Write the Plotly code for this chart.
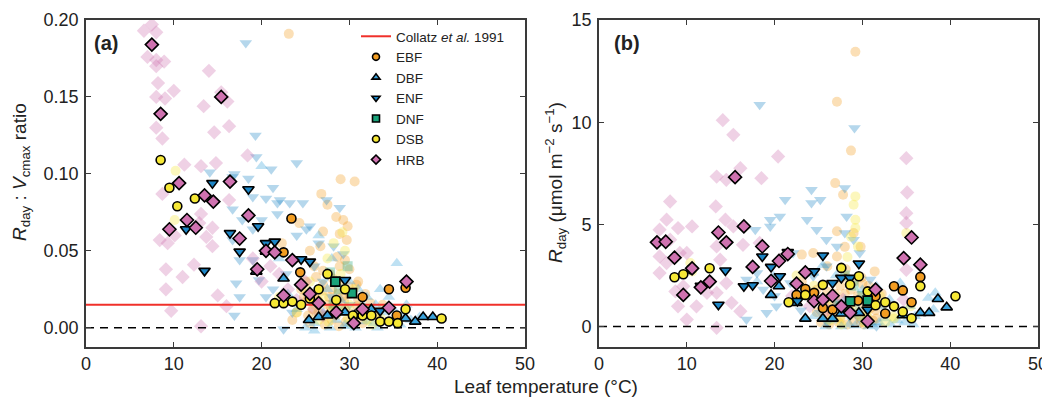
import plotly.graph_objects as go

# ---------------- data ----------------
CATS = ["EBF", "DBF", "ENF", "DNF", "DSB", "HRB"]
COLLATZ_RATIO = 0.015
ZERO = 0.0
X_LIMITS = [0, 50]
A_Y_LIMITS = [-0.0125, 0.2]
B_Y_LIMITS = [-1.0, 15.0]
X_TICKS = [0, 10, 20, 30, 40, 50]
A_Y_TICKS = [0.00, 0.05, 0.10, 0.15, 0.20]
B_Y_TICKS = [0, 5, 10, 15]

# Panel (a) – highlighted points
A_EBF_x = [23.4, 22.5, 24.4, 31.5, 34.5, 36.4, 35.4]
A_EBF_y = [0.071, 0.049, 0.036, 0.020, 0.025, 0.026, 0.008]
A_DBF_x = [19.4, 20.5, 22.5, 25.4, 26.5, 27.5, 29.5, 30.6, 32.5, 36.4, 37.5, 38.4, 39.5]
A_DBF_y = [0.0365, 0.0495, 0.032, 0.005, 0.007, 0.008, 0.010, 0.008, 0.012, 0.006, 0.004, 0.007, 0.007]
A_ENF_x = [14.4, 18.5, 11.4, 16.4, 19.6, 17.5, 20.5, 21.5, 13.5, 24.5, 25.5, 29.5, 33.5]
A_ENF_y = [0.094, 0.090, 0.064, 0.0615, 0.066, 0.0495, 0.055, 0.056, 0.037, 0.0445, 0.043, 0.031, 0.011]
A_DNF_x = [28.4, 30.3]
A_DNF_y = [0.030, 0.0225]
A_DSB_x = [8.5, 9.5, 10.4, 12.4, 21.5, 22.5, 23.5, 24.5, 25.5, 26.5, 27.5, 28.5, 29.5, 30.4, 31.5, 32.5, 33.5, 34.5, 35.5, 36.4, 40.5]
A_DSB_y = [0.109, 0.091, 0.079, 0.084, 0.016, 0.016, 0.017, 0.015, 0.019, 0.025, 0.035, 0.018, 0.025, 0.008, 0.008, 0.008, 0.004, 0.004, 0.003, 0.012, 0.006]
A_HRB_x = [7.5, 8.5, 15.4, 9.5, 10.6, 16.4, 13.5, 14.5, 11.5, 12.5, 18.5, 17.5, 20.5, 21.5, 19.5, 23.5, 24.5, 22.5, 25.5, 26.5, 28.5, 30.5, 31.5, 34.5, 36.5]
A_HRB_y = [0.184, 0.139, 0.150, 0.064, 0.094, 0.095, 0.086, 0.082, 0.070, 0.065, 0.073, 0.058, 0.050, 0.049, 0.038, 0.044, 0.028, 0.021, 0.022, 0.016, 0.010, 0.003, 0.012, 0.013, 0.030]

# Panel (a) – faint background points
A_BG_EBF_x = [23.1, 29.0, 30.6, 26.8, 27.5, 29.3, 28.5, 29.8, 28.9, 27.0, 29.7, 26.7, 25.5, 28.6, 29.5, 28.9, 30.0, 27.8, 31.0, 25.0,
              24.5, 26.0, 27.0, 28.0, 29.0, 30.0, 31.0, 32.0, 26.5, 27.5, 28.5, 29.5, 30.5, 25.5, 24.0, 23.5, 33.0, 31.5, 26.0, 28.0,
              27.2, 29.2, 24.3, 22.3, 26.2, 27.7, 28.3, 29.6, 30.8, 25.2, 27.0, 28.8, 31.8, 33.8,
              25.8, 26.4, 27.3, 27.9, 28.7, 29.4, 30.2, 30.9, 31.6, 32.4, 26.9, 28.1, 29.9, 24.8, 25.3]
A_BG_EBF_y = [0.191, 0.0965, 0.095, 0.087, 0.080, 0.070, 0.072, 0.066, 0.061, 0.0625, 0.057, 0.053, 0.050, 0.046, 0.044, 0.040, 0.038, 0.035, 0.030, 0.030,
              0.025, 0.022, 0.028, 0.025, 0.030, 0.022, 0.018, 0.012, 0.010, 0.015, 0.008, 0.012, 0.005, 0.003, 0.010, 0.005, 0.008, 0.003, 0.040, 0.005,
              0.002, 0.020, 0.068, 0.055, 0.033, 0.020, 0.015, 0.004, 0.028, 0.018, 0.037, 0.001, 0.022, 0.015,
              0.012, 0.018, 0.008, 0.013, 0.022, 0.017, 0.009, 0.014, 0.010, 0.016, 0.024, 0.032, 0.027, 0.020, 0.008]
A_BG_DBF_x = [20.0, 26.5, 28.0, 30.0, 31.0, 32.0, 33.0, 34.0, 35.0, 36.0, 37.0, 38.0, 27.0, 28.5, 29.5, 25.0, 26.0, 24.0, 23.0, 22.0,
              35.4, 33.5, 30.5, 31.5, 29.0, 27.5, 36.5, 34.5, 26.0, 27.8, 29.8, 32.8, 30.7, 31.9, 33.2, 34.8, 35.8, 28.9]
A_BG_DBF_y = [0.105, 0.060, 0.045, 0.030, 0.025, 0.020, 0.015, 0.010, 0.012, 0.008, 0.005, 0.007, 0.010, 0.005, 0.002, 0.000, 0.003, 0.012, 0.022, 0.045,
              0.042, 0.025, 0.005, 0.015, 0.018, 0.025, 0.015, 0.020, -0.002, 0.000, 0.001, 0.003, 0.000, 0.004, 0.000, 0.003, 0.002, 0.014]
A_BG_ENF_x = [18.2, 19.3, 19.4, 21.1, 14.1, 16.9, 18.5, 16.7, 19.0, 20.5, 21.8, 16.7, 17.8, 16.7, 17.5, 19.0, 17.1, 17.5, 19.7, 20.5,
              21.3, 16.9, 21.8, 19.0, 21.3, 22.1, 23.2, 24.0, 24.7, 25.5, 25.1, 27.4, 28.9, 28.2, 29.3, 22.5, 23.5, 26.0, 27.0, 28.0,
              30.0, 31.0, 24.0, 26.5, 20.0, 22.8]
A_BG_ENF_y = [0.185, 0.125, 0.111, 0.103, 0.101, 0.100, 0.097, 0.098, 0.085, 0.084, 0.081, 0.077, 0.070, 0.057, 0.044, 0.044, 0.029, 0.020, 0.031, 0.020,
              0.025, 0.008, 0.074, 0.064, 0.091, 0.083, 0.081, 0.107, 0.081, 0.066, 0.064, 0.083, 0.078, 0.053, 0.048, -0.001, 0.010, 0.040, 0.030, 0.020,
              0.015, 0.010, 0.060, 0.055, 0.070, 0.035]
A_BG_DNF_x = [27.8, 28.8, 29.8, 28.2]
A_BG_DNF_y = [0.036, 0.025, 0.040, 0.015]
A_BG_DSB_x = [10.1, 10.2, 22.0, 24.0, 25.0, 26.0, 27.0, 28.0, 29.0, 30.0, 31.0, 32.0, 33.0, 27.5, 28.5, 29.5, 26.5, 25.5, 30.5, 29.2, 28.2,
              26.3, 27.6, 28.9, 30.3, 31.4, 32.6, 33.6, 29.8]
A_BG_DSB_y = [0.070, 0.102, 0.020, 0.010, 0.025, 0.015, 0.020, 0.010, 0.035, 0.015, 0.008, 0.005, 0.010, 0.045, 0.030, 0.050, 0.005, 0.030, 0.025, 0.062, 0.055,
              0.009, 0.004, 0.012, 0.003, 0.013, 0.002, 0.006, 0.006]
A_BG_HRB_x = [6.6, 7.5, 8.0, 7.0, 8.0, 8.9, 8.0, 8.2, 8.0, 9.0, 10.0, 14.0, 15.4, 16.1, 13.4, 16.3, 14.6, 8.0, 8.7, 18.4,
              14.8, 11.2, 13.1, 8.7, 8.4, 9.3, 9.1, 11.0, 9.1, 9.7, 12.3, 14.4, 13.1, 14.4, 13.1, 15.0, 16.0, 12.9, 10.1, 13.7,
              16.3, 20.0, 22.0, 23.0, 24.0, 25.0, 26.0, 27.0, 21.0, 19.0]
A_BG_HRB_y = [0.193, 0.197, 0.192, 0.176, 0.174, 0.173, 0.170, 0.159, 0.150, 0.149, 0.154, 0.167, 0.153, 0.147, 0.144, 0.131, 0.127, 0.130, 0.123, 0.112,
              0.107, 0.106, 0.105, 0.087, 0.057, 0.055, 0.038, 0.033, 0.025, 0.011, 0.041, 0.053, 0.074, 0.065, 0.001, 0.021, 0.014, 0.068, 0.060, 0.059,
              0.083, 0.030, 0.035, 0.025, 0.018, 0.030, 0.012, 0.008, 0.040, 0.045]

# Panel (b) – highlighted points
B_EBF_x = [22.5, 23.5, 24.5, 25.5, 26.6, 29.5, 31.5, 32.6, 33.6, 34.6, 35.6, 36.6]
B_EBF_y = [1.55, 1.84, 1.65, 0.91, 0.83, 1.27, 1.48, 0.64, 1.97, 1.77, 1.19, 2.43]
B_DBF_x = [19.6, 20.5, 22.5, 23.5, 25.5, 26.6, 27.6, 29.6, 34.6, 36.6, 37.6, 38.6, 39.6]
B_DBF_y = [1.55, 1.97, 1.16, 0.39, 0.39, 0.39, 0.64, 0.67, 0.55, 0.67, 0.67, 1.35, 0.94]
B_ENF_x = [11.6, 13.6, 14.4, 16.5, 17.5, 18.6, 19.6, 20.6, 21.5, 22.6, 24.5, 25.5, 26.6, 27.6, 28.6, 29.6, 30.6]
B_ENF_y = [2.0, 1.07, 2.74, 1.97, 2.02, 3.43, 2.92, 2.46, 3.65, 1.25, 2.7, 3.48, 2.13, 2.38, 2.38, 3.08, 0.83]
B_DNF_x = [28.6, 30.6]
B_DNF_y = [1.24, 1.27]
B_DSB_x = [8.6, 9.6, 10.5, 12.6, 21.6, 23.5, 25.5, 27.6, 28.6, 29.6, 30.6, 31.5, 32.6, 33.6, 34.6, 35.6, 36.6, 40.6]
B_DSB_y = [2.41, 2.56, 2.8, 2.85, 1.19, 1.55, 2.04, 2.87, 2.05, 2.46, 1.72, 1.04, 1.19, 0.99, 0.73, 0.41, 1.97, 1.48]
B_HRB_x = [6.6, 7.6, 8.6, 10.6, 9.6, 11.6, 12.6, 13.6, 14.5, 15.5, 16.5, 17.5, 18.6, 19.6, 20.5, 21.5, 22.5, 23.5, 24.5, 25.5,
           26.6, 27.6, 28.6, 30.6, 31.5, 34.7, 35.6, 36.6]
B_HRB_y = [4.12, 4.15, 3.37, 2.85, 1.55, 1.92, 2.2, 4.6, 4.12, 7.31, 4.9, 2.92, 3.92, 2.23, 3.21, 3.55, 2.1, 2.65, 1.25, 1.32,
           1.51, 0.99, 0.67, 0.26, 1.81, 3.35, 4.36, 3.03]

# Panel (b) – faint background points
B_BG_EBF_x = [29.2, 27.1, 28.7, 26.9, 27.8, 27.1, 28.0, 29.0, 29.8, 31.4, 27.1, 26.0, 28.2, 29.0, 30.0, 30.7, 27.5, 26.0, 25.0, 28.5,
              30.0, 31.5, 26.5, 27.5, 29.0, 30.5, 24.4, 23.1, 23.1, 28.0, 29.5, 31.0, 25.5, 27.0, 26.2, 28.3, 29.8, 31.2, 24.8, 32.2,
              25.8, 26.4, 27.3, 27.9, 28.7, 29.4, 30.2, 30.9, 31.6, 32.4, 26.9, 28.1, 29.9, 24.8, 25.3]
B_BG_EBF_y = [13.45, 11.0, 8.61, 7.02, 6.45, 4.66, 3.9, 4.58, 3.9, 2.7, 3.43, 2.95, 2.4, 2.2, 2.1, 2.0, 2.0, 1.7, 1.3, 1.0,
              1.0, 0.8, 0.6, 0.4, 0.3, 0.5, 3.6, 3.52, 2.2, 1.6, 1.5, 1.2, 0.9, 1.3, 0.1, 0.1, 0.2, 0.3, 0.7, 1.6,
              0.5, 1.2, 0.2, 0.8, 1.8, 0.6, 0.1, 0.9, 0.4, 1.1, 1.6, 2.8, 2.4, 1.8, 0.2]
B_BG_DBF_x = [38.3, 37.5, 34.3, 31.6, 33.1, 35.4, 38.1, 24.4, 23.0, 19.9, 18.0, 22.1, 28.0, 29.5, 24.5, 26.5, 28.5, 30.5, 32.5, 34.0,
              36.0, 27.0, 25.5, 30.0, 32.0, 25.8, 27.6, 29.2, 31.1, 30.7, 31.9, 33.2, 34.8, 35.8, 28.9]
B_BG_DBF_y = [1.65, 1.4, 2.13, 1.97, 1.32, 0.99, 0.83, 2.62, 2.0, 2.46, 2.2, 1.32, 1.32, 0.83, 0.5, 0.3, 0.1, 0.2, 0.4, 0.3,
              0.5, 2.5, 3.0, 1.8, 1.0, 0.0, 0.0, 0.05, 0.1, 0.0, 0.2, 0.1, 0.2, 0.1, 0.6]
B_BG_ENF_x = [18.3, 29.1, 24.2, 25.2, 24.2, 28.0, 21.2, 19.5, 20.6, 17.8, 19.5, 23.7, 24.8, 25.9, 28.2, 28.0, 29.0, 27.1, 22.1, 18.0,
              16.8, 18.7, 21.8, 20.2, 19.1, 16.8, 22.9, 24.4, 25.9, 29.7, 30.9, 25.2, 29.7, 31.6, 27.0, 26.0, 23.0, 20.0, 28.5]
B_BG_ENF_y = [10.85, 9.71, 6.69, 6.2, 6.04, 6.78, 6.2, 5.23, 5.39, 4.74, 4.9, 5.23, 4.74, 4.25, 5.39, 4.58, 4.25, 3.92, 3.6, 2.62,
              2.3, 1.81, 2.13, 0.99, 0.67, 0.34, 1.65, 2.46, 2.95, 3.6, 2.3, 0.67, 0.34, 0.01, 1.2, 0.2, 0.8, 1.5, 0.5]
B_BG_DNF_x = [28.0, 29.0, 30.0, 27.5]
B_BG_DNF_y = [2.5, 2.0, 1.5, 1.0]
B_BG_DSB_x = [29.2, 29.0, 29.2, 29.2, 28.7, 29.5, 28.3, 35.0, 10.4, 10.6, 26.0, 27.5, 30.5, 32.0, 24.5, 33.5, 35.5, 22.5,
              26.3, 27.6, 28.9, 30.3, 31.4, 32.6, 33.6, 29.8]
B_BG_DSB_y = [6.37, 5.96, 5.23, 4.82, 4.4, 3.92, 3.4, 4.58, 3.11, 2.7, 1.0, 0.5, 0.6, 1.5, 2.0, 0.5, 1.0, 2.5,
              0.3, 0.1, 0.9, 0.2, 1.3, 0.2, 0.4, 0.5]
B_BG_HRB_x = [8.1, 6.9, 7.7, 9.0, 10.6, 8.1, 6.9, 7.7, 6.9, 9.2, 10.0, 13.4, 13.3, 14.1, 15.3, 16.1, 14.5, 14.4, 15.3, 13.4,
              13.8, 14.5, 13.4, 15.1, 16.1, 13.4, 20.4, 18.5, 18.3, 16.4, 20.6, 9.0, 10.0, 11.1, 8.7, 9.6, 12.3, 35.0, 35.1, 35.0,
              35.0, 35.0, 34.7, 27.8, 26.0, 24.0, 22.0]
B_BG_HRB_y = [6.12, 4.74, 5.23, 4.82, 4.9, 4.25, 3.43, 3.11, 2.62, 3.6, 3.6, 7.34, 5.88, 10.1, 9.38, 7.75, 7.18, 5.23, 4.9, 3.92,
              3.27, 2.13, 1.65, 1.16, 0.75, -0.06, 8.32, 7.26, 4.09, 4.0, 3.27, 0.99, 0.34, 0.99, 1.72, 1.97, 1.65, 8.24, 6.56, 5.55,
              5.07, 2.78, 1.32, 1.32, 0.8, 1.0, 1.5]

# ---------------- styles ----------------
COLORS = {"EBF": "#f29d22", "DBF": "#3aa3dc", "ENF": "#1d86c6", "DNF": "#1aa37a", "DSB": "#f6e836", "HRB": "#cf72b0"}
SYMBOLS = {"EBF": "circle", "DBF": "triangle-up", "ENF": "triangle-down", "DNF": "square", "DSB": "circle", "HRB": "diamond"}
SIZES = {"EBF": 9, "DBF": 10, "ENF": 10, "DNF": 9, "DSB": 9, "HRB": 10}
FONT = "Liberation Sans, Arial, Helvetica, sans-serif"
AX_COLOR = "#3a3a3a"

# the page body has an 8px margin: the figure is drawn 8px in from the window corner
OFF = 8
W, H = 1050 - OFF, 402 - OFF


def px(x):
    return (x - OFF) / W


def py(y):
    return 1 - (y - OFF) / H


G = globals()
fig = go.Figure()

for panel, xa, ya in (("A", "x", "y"), ("B", "x2", "y2")):
    for c in CATS:
        fig.add_trace(go.Scatter(
            x=G[f"{panel}_BG_{c}_x"], y=G[f"{panel}_BG_{c}_y"], mode="markers", xaxis=xa, yaxis=ya,
            marker=dict(symbol=SYMBOLS[c], size=SIZES[c] + 1, color=COLORS[c], opacity=0.33, line=dict(width=0)),
            showlegend=False, hoverinfo="skip"))
    fig.add_trace(go.Scatter(x=X_LIMITS, y=[ZERO, ZERO], mode="lines", xaxis=xa, yaxis=ya,
                             line=dict(color="black", width=1.6, dash="8px,6px"), showlegend=False, hoverinfo="skip"))
    if panel == "A":
        fig.add_trace(go.Scatter(x=X_LIMITS, y=[COLLATZ_RATIO, COLLATZ_RATIO], mode="lines", xaxis=xa, yaxis=ya,
                                 line=dict(color="#f0302a", width=2), name="Collatz <i>et al.</i> 1991",
                                 showlegend=True, legendrank=1))
    for c in CATS:
        fig.add_trace(go.Scatter(
            x=G[f"{panel}_{c}_x"], y=G[f"{panel}_{c}_y"], mode="markers", xaxis=xa, yaxis=ya,
            marker=dict(symbol=SYMBOLS[c], size=SIZES[c], color=COLORS[c], line=dict(width=1.6, color="black")),
            showlegend=False, name=c))

for i, c in enumerate(CATS):
    fig.add_trace(go.Scatter(x=[None], y=[None], mode="markers", name=c, legendrank=2 + i,
                             marker=dict(symbol=SYMBOLS[c], size=7, color=COLORS[c], line=dict(width=1.6, color="black"))))

Y_DOM = [py(347), py(20)]
axis_common = dict(showline=True, linecolor=AX_COLOR, linewidth=1.6, mirror="ticks", ticks="inside",
                   ticklen=5, tickwidth=1, tickcolor=AX_COLOR, showgrid=False, zeroline=False, automargin=False,
                   tickfont=dict(family=FONT, size=18, color="#222"))
fig.update_layout(
    width=W, height=H, margin=dict(l=0, r=0, t=0, b=0, autoexpand=False),
    paper_bgcolor="white", plot_bgcolor="white", font=dict(family=FONT, color="#222"),
    xaxis=dict(domain=[px(86), px(525)], anchor="y", range=X_LIMITS, tickvals=X_TICKS, ticklabelstandoff=0, **axis_common),
    yaxis=dict(domain=Y_DOM, anchor="x", range=A_Y_LIMITS, tickvals=A_Y_TICKS, tickformat=".2f", ticklabelstandoff=2, **axis_common),
    xaxis2=dict(domain=[px(599), px(1038)], anchor="y2", range=X_LIMITS, tickvals=X_TICKS, ticklabelstandoff=0, **axis_common),
    yaxis2=dict(domain=Y_DOM, anchor="x2", range=B_Y_LIMITS, tickvals=B_Y_TICKS, ticklabelstandoff=2, **axis_common),
    legend=dict(x=px(356), y=py(21), xanchor="left", yanchor="top", bgcolor="rgba(0,0,0,0)",
                font=dict(family=FONT, size=13.5, color="#222"), itemclick=False),
    showlegend=True,
)

ann = [
    dict(text="<b>(a)</b>", x=px(92), y=py(43), xanchor="left", yanchor="middle", font=dict(size=20)),
    dict(text="<b>(b)</b>", x=px(612), y=py(43), xanchor="left", yanchor="middle", font=dict(size=20)),
    dict(text="<i>R</i><sub>day</sub> : <i>V</i><sub>cmax</sub> ratio", x=px(21), y=py(172),
         textangle=-90, xanchor="center", yanchor="middle", font=dict(size=19)),
    dict(text="<i>R</i><sub>day</sub> (μmol m<sup>−2</sup> s<sup>−1</sup>)", x=px(556), y=py(183),
         textangle=-90, xanchor="center", yanchor="middle", font=dict(size=19)),
    dict(text="Leaf temperature (°C)", x=px(546), y=py(386), xanchor="center", yanchor="middle",
         font=dict(size=19)),
]
for a in ann:
    a.update(xref="paper", yref="paper", showarrow=False)
    a["font"].update(family=FONT, color="#222")
fig.update_layout(annotations=ann)

fig.write_html("out.html")
